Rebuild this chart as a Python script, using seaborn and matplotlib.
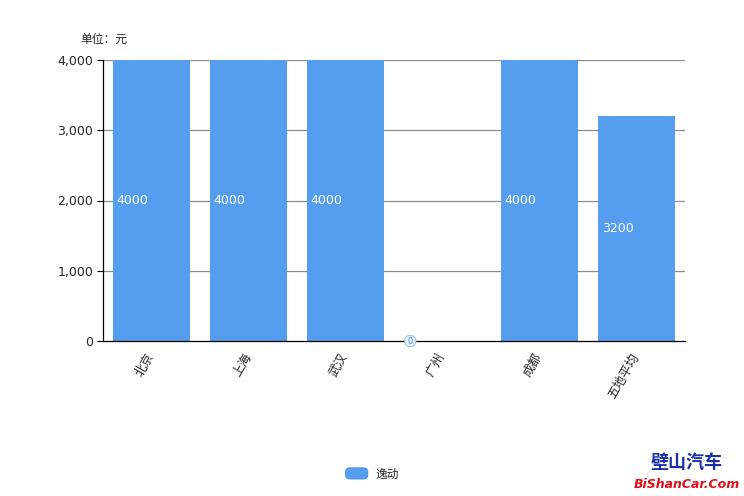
import matplotlib
matplotlib.use("Agg")
import matplotlib.pyplot as plt
import seaborn as sns
import pandas as pd
from matplotlib.patches import FancyBboxPatch
from matplotlib.legend_handler import HandlerPatch

categories = ["北京", "上海", "武汉", "广州", "成都", "五地平均"]
values = [4000, 4000, 4000, 0, 4000, 3200]
series_name = "逸动"
yticks = [0, 1000, 2000, 3000, 4000]
ytick_labels = ["0", "1,000", "2,000", "3,000", "4,000"]

sns.set_style("white")
plt.rcParams['font.family'] = ['Noto Sans CJK SC', 'DejaVu Sans']

color = "#559DEF"
df = pd.DataFrame({"city": categories, "value": values, "series": series_name})

fig = plt.figure(figsize=(7.44, 4.96), dpi=100)
ax = fig.add_axes([103/744, 1 - 341/496, 582/744, 281/496])

for y in yticks[1:]:
    ax.axhline(y, color="#8c8c8c", lw=0.9, zorder=0)

sns.barplot(data=df, x="city", y="value", color=color, saturation=1, width=0.8, ax=ax,
            linewidth=0, zorder=2)

ax.set_ylim(0, 4000)
ax.set_xlim(-0.5, len(categories) - 0.5)
ax.set_yticks(yticks)
ax.set_yticklabels(ytick_labels, fontsize=9, family=['DejaVu Sans'])
ax.set_xlabel("")
ax.set_ylabel("")
ax.tick_params(axis='y', which='both', left=True, length=4, width=0.8, color="black", pad=3)
ax.tick_params(axis='x', bottom=False, pad=6)
ax.set_xticks(range(len(categories)))
ax.set_xticklabels(categories, rotation=60, ha='right', va='center', fontsize=9,
                   rotation_mode='anchor')

for s in ["top", "right"]:
    ax.spines[s].set_visible(False)
for s in ["left", "bottom"]:
    ax.spines[s].set_color("black")
    ax.spines[s].set_linewidth(0.9)
ax.spines["bottom"].set_zorder(3)

for i, v in enumerate(values):
    if v > 0:
        ax.text(i - 0.4 + 0.04, v / 2, str(v), color="white", fontsize=9,
                ha='left', va='center', family=['DejaVu Sans'], zorder=4)
    else:
        ax.text(i - 0.4 + 0.04, 0, str(v), color="#4a8fe0", fontsize=6,
                ha='left', va='center', family=['DejaVu Sans'], zorder=4,
                bbox=dict(boxstyle="circle,pad=0.15", fc="#e6f0fc", ec="#8ab8ee", lw=0.6))

fig.text(80/744, 1 - 39/496, "单位：元", fontsize=8.5, ha='left', va='center')


class RoundHandler(HandlerPatch):
    def create_artists(self, legend, orig_handle, xdescent, ydescent, width, height, fontsize, trans):
        p = FancyBboxPatch((-xdescent + 2, -ydescent + 1), width - 4, height - 2,
                           boxstyle="round,pad=1.5,rounding_size=3",
                           fc=color, ec="#4a8fe0", lw=0.6, transform=trans)
        return [p]


proxy = plt.Rectangle((0, 0), 1, 1, fc=color)
fig.legend([proxy], [series_name], handler_map={plt.Rectangle: RoundHandler()},
           loc='center', bbox_to_anchor=(372/744, 1 - 474/496), frameon=False,
           fontsize=8.5, handlelength=2.0, handleheight=0.9, handletextpad=0.6)

fig.text(687/744, 1 - 463/496, "壁山汽车", fontsize=13, color="#1a2fa8",
         ha='center', va='center', fontweight='bold')
fig.text(687/744, 1 - 484/496, "BiShanCar.Com", fontsize=9, color="#e0101a",
         ha='center', va='center', fontweight='bold', family=['DejaVu Sans'], style='italic')

fig.savefig("out.png", dpi=100)
